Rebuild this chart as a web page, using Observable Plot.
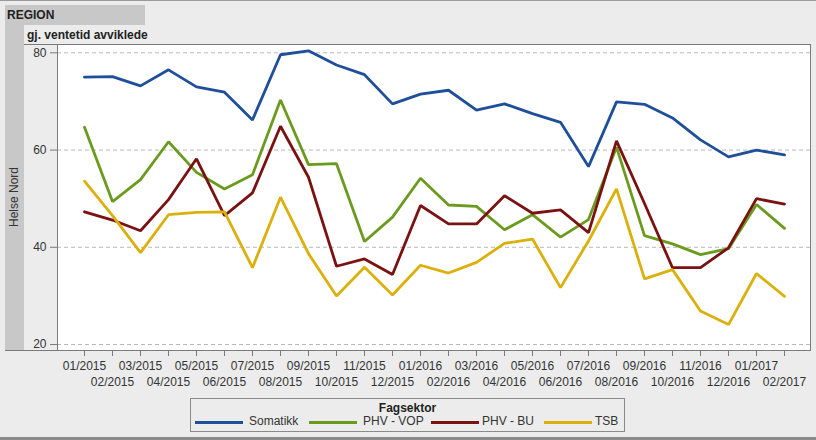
<!DOCTYPE html>
<html>
<head>
<meta charset="utf-8">
<script src="https://cdn.jsdelivr.net/npm/d3@7"></script>
<script src="https://cdn.jsdelivr.net/npm/@observablehq/plot@0.6"></script>
<style>
  html, body { margin: 0; padding: 0; background: #ececec; }
  #wrap { position: relative; width: 816px; height: 440px; overflow: hidden; background: #ececec;
          font-family: "Liberation Sans", Arial, sans-serif; color: #222; }
  .abs { position: absolute; }
  #plot { position: absolute; left: 0; top: 0; }
  .sw { position: absolute; height: 3px; width: 48px; top: 22px; }
  .lab { position: absolute; top: 15px; font-size: 12px; color: #333; white-space: nowrap; }
</style>
</head>
<body>
<div id="wrap">
  <div class="abs" style="left:0;top:0;width:816px;height:1px;background:#9a9a9a"></div>
  <div class="abs" style="left:5px;top:5px;width:140px;height:20px;background:#c8c8c8"></div>
  <div class="abs" style="left:7px;top:8px;font-size:12px;font-weight:bold">REGION</div>
  <div class="abs" style="left:5px;top:25px;width:19px;height:325px;background:#c8c8c8"></div>
  <div class="abs" style="left:27px;top:28px;font-size:12px;font-weight:bold">gj. ventetid avviklede</div>
  <div class="abs" style="left:24px;top:44px;width:786px;height:1px;background:#7a7a7a"></div>
  <div class="abs" style="left:5px;top:350px;width:805px;height:1px;background:#7a7a7a"></div>
  <div class="abs" style="left:5px;top:44px;width:19px;height:306px;display:flex;align-items:center;justify-content:center">
    <div style="transform:rotate(-90deg);font-size:12px;color:#333;white-space:nowrap">Helse Nord</div>
  </div>
  <div id="plot"></div>
  <div id="legend" class="abs" style="left:190px;top:398px;width:433px;height:32px;border:1px solid #8a8a8a">
    <div class="abs" style="left:0;top:2px;width:433px;text-align:center;font-size:12px;font-weight:bold;color:#222">Fagsektor</div>
  </div>
  <div class="abs" style="left:0;top:437px;width:816px;height:3px;background:#8a8a8a"></div>
</div>
<script>
const months = ["01/2015","02/2015","03/2015","04/2015","05/2015","06/2015","07/2015","08/2015","09/2015","10/2015","11/2015","12/2015",
  "01/2016","02/2016","03/2016","04/2016","05/2016","06/2016","07/2016","08/2016","09/2016","10/2016","11/2016","12/2016",
  "01/2017","02/2017"];
const seriesNames = ["Somatikk", "PHV - VOP", "PHV - BU", "TSB"];
const seriesColors = ["#1f4f9a", "#6b9b1e", "#7a1212", "#dcb00c"];
const somatikk = [75.0,75.1,73.2,76.5,73.0,71.9,66.2,79.6,80.4,77.5,75.5,69.5,71.5,72.3,68.2,69.5,67.5,65.7,56.6,69.9,69.4,66.6,62.1,58.6,60.0,59.0];
const phvVop = [64.7,49.4,53.9,61.7,55.4,52.0,54.9,70.3,57.0,57.2,41.2,46.2,54.2,48.7,48.4,43.6,46.7,42.1,45.7,60.6,42.4,40.7,38.5,39.7,48.8,43.9];
const phvBu = [47.3,45.6,43.4,49.8,58.2,46.5,51.2,64.9,54.4,36.1,37.6,34.4,48.6,44.8,44.8,50.6,47.0,47.7,43.0,61.9,49.0,35.8,35.8,39.9,50.0,48.9];
const tsb = [53.6,46.5,38.9,46.7,47.2,47.3,35.8,50.3,38.7,30.0,35.9,30.2,36.3,34.7,36.9,40.8,41.7,31.7,41.3,52.0,33.5,35.4,26.9,24.1,34.6,29.9];
const yTicks = [20, 40, 60, 80];

const seriesValues = [somatikk, phvVop, phvBu, tsb];
const rows = seriesNames.flatMap((name, s) => months.map((m, i) => ({series: name, month: m, value: seriesValues[s][i]})));
const evenMonths = months.filter((d, i) => i % 2 === 0);
const oddMonths = months.filter((d, i) => i % 2 === 1);

const chart = Plot.plot({
  width: 816,
  height: 395,
  marginLeft: 57,
  marginRight: 6,
  marginTop: 44,
  marginBottom: 45,
  style: {background: "transparent", fontFamily: "'Liberation Sans', Arial, sans-serif", fontSize: "12px", color: "#333"},
  x: {type: "point", domain: months, padding: 0.7, label: null},
  y: {domain: [18.77, 81.71], label: null},
  color: {domain: seriesNames, range: seriesColors},
  marks: [
    Plot.frame({fill: "white", stroke: "none"}),
    Plot.gridY(yTicks, {stroke: "#b8b8b8", strokeOpacity: 1, strokeDasharray: "4,3"}),
    Plot.frame({stroke: "#7a7a7a"}),
    Plot.axisY(yTicks, {tickSize: 7, tickPadding: 4, label: null, stroke: "#7a7a7a", fill: "#333"}),
    Plot.axisX(evenMonths, {tickSize: 6, tickPadding: 5, label: null, stroke: "#7a7a7a", fill: "#333"}),
    Plot.axisX(oddMonths, {tickSize: 6, tickPadding: 21, label: null, stroke: "#7a7a7a", fill: "#333"}),
    Plot.line(rows, {x: "month", y: "value", z: "series", stroke: "series", strokeWidth: 2.8, strokeLinejoin: "miter"})
  ]
});
document.getElementById("plot").appendChild(chart);

// legend items
const legend = document.getElementById("legend");
const swLeft = [4, 118, 240, 353];
const labLeft = [58, 172, 291, 404];
seriesNames.forEach((name, i) => {
  const sw = document.createElement("div");
  sw.className = "sw";
  sw.style.left = swLeft[i] + "px";
  sw.style.background = seriesColors[i];
  legend.appendChild(sw);
  const lab = document.createElement("div");
  lab.className = "lab";
  lab.style.left = labLeft[i] + "px";
  lab.textContent = name;
  legend.appendChild(lab);
});
</script>
</body>
</html>
